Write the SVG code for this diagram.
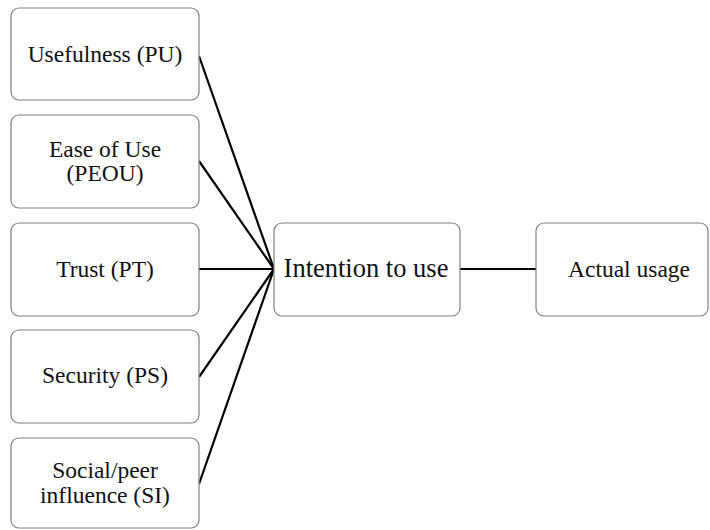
<svg xmlns="http://www.w3.org/2000/svg" width="710" height="530" viewBox="0 0 710 530">
<style>
.box{fill:#fff;stroke:#7f7f7f;stroke-width:1.2}
text{font-family:"Liberation Serif","Times New Roman",serif;font-size:23.5px;fill:#111;text-anchor:middle}
text.big{font-size:26.5px}
.c{stroke:#000;stroke-width:2.2;fill:none}
</style>
<rect width="710" height="530" fill="#fff"/>
<g id="connectors">
<line class="c" x1="199" y1="56" x2="274" y2="269"/>
<line class="c" x1="199" y1="161" x2="274" y2="269"/>
<line class="c" x1="199" y1="269" x2="274" y2="269"/>
<line class="c" x1="199" y1="377" x2="274" y2="269"/>
<line class="c" x1="199" y1="484" x2="274" y2="269"/>
<line class="c" x1="460" y1="269" x2="536" y2="269"/>
</g>
<g id="pu"><rect class="box" x="11" y="8" width="188" height="92" rx="8"/><text x="105" y="62">Usefulness (PU)</text></g>
<g id="peou"><rect class="box" x="11" y="115" width="188" height="93" rx="8"/><text x="105" y="157">Ease of Use</text><text x="105" y="181">(PEOU)</text></g>
<g id="pt"><rect class="box" x="11" y="223" width="188" height="93" rx="8"/><text x="105" y="277">Trust (PT)</text></g>
<g id="ps"><rect class="box" x="11" y="330" width="188" height="93" rx="8"/><text x="105" y="383">Security (PS)</text></g>
<g id="si"><rect class="box" x="11" y="438" width="188" height="90" rx="8"/><text x="105" y="478">Social/peer</text><text x="105" y="503">influence (SI)</text></g>
<g id="intention"><rect class="box" x="274" y="223" width="186" height="93" rx="8"/><text class="big" x="366" y="277">Intention to use</text></g>
<g id="actual"><rect class="box" x="536" y="223" width="172" height="93" rx="8"/><text x="629" y="277">Actual usage</text></g>
</svg>
